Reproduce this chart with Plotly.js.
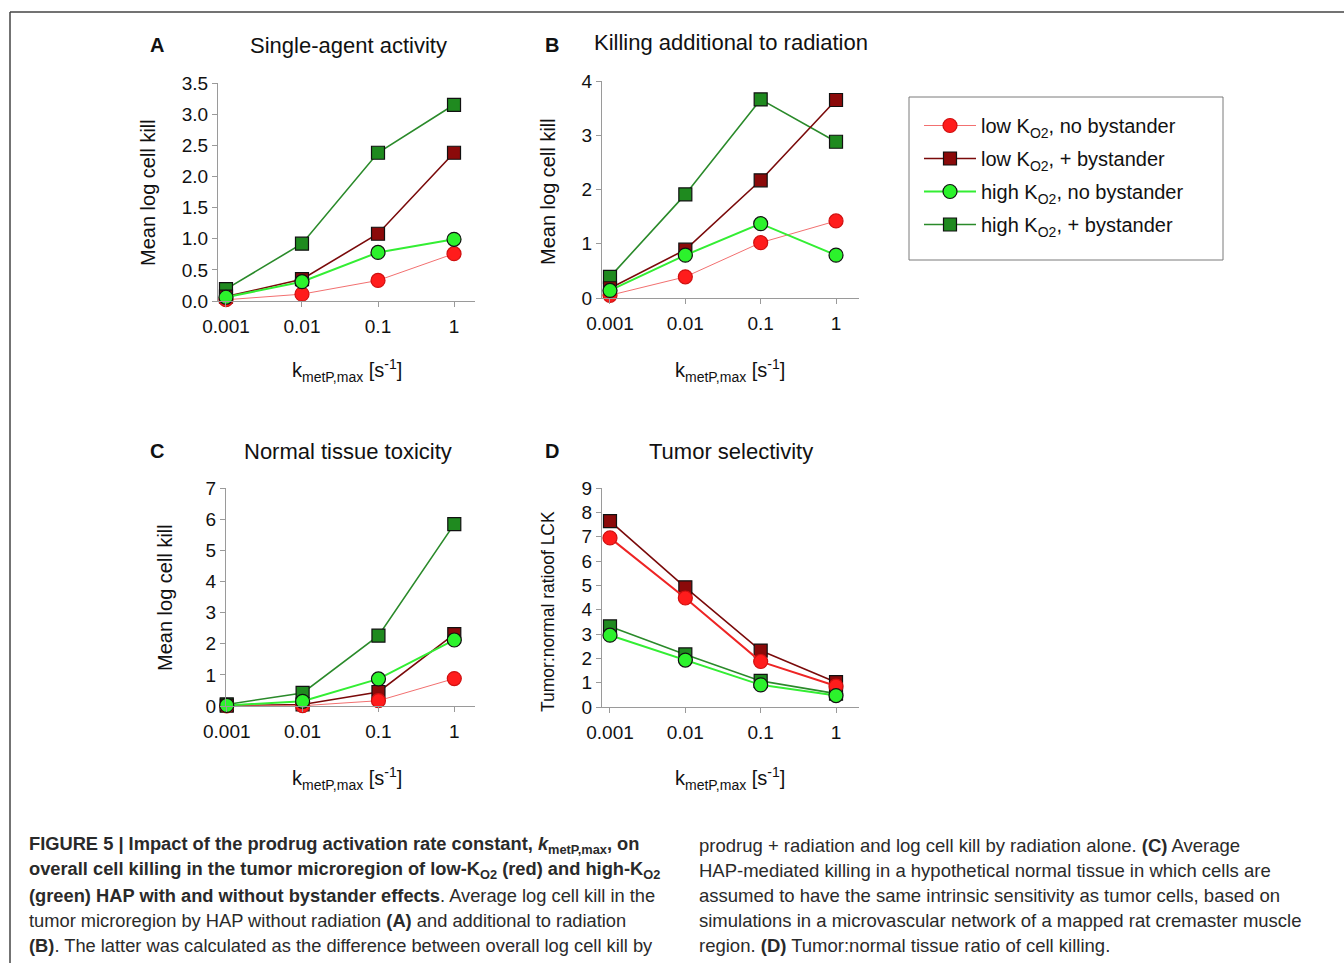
<!DOCTYPE html>
<html>
<head>
<meta charset="utf-8">
<script src="https://cdn.plot.ly/plotly-3.0.1.min.js"></script>
<style>html,body{margin:0;padding:0;background:#fff;}#chart{width:1344px;height:963px;}</style>
</head>
<body>
<div id="chart"></div>
<script>
// ---- data ----
const kmet = [0.001, 0.01, 0.1, 1];
const kmetLabels = ["0.001", "0.01", "0.1", "1"];
const seriesNames = ["low K<sub>O2</sub>, no bystander", "low K<sub>O2</sub>, + bystander",
                     "high K<sub>O2</sub>, no bystander", "high K<sub>O2</sub>, + bystander"];
// A: Single-agent activity
const aLowNo  = [0.02, 0.11, 0.33, 0.76];
const aLowBy  = [0.07, 0.35, 1.08, 2.38];
const aHighNo = [0.06, 0.31, 0.78, 0.99];
const aHighBy = [0.19, 0.92, 2.38, 3.15];
// B: Killing additional to radiation
const bLowNo  = [0.05, 0.39, 1.02, 1.42];
const bLowBy  = [0.18, 0.89, 2.17, 3.65];
const bHighNo = [0.14, 0.79, 1.37, 0.79];
const bHighBy = [0.39, 1.91, 3.66, 2.88];
// C: Normal tissue toxicity
const cLowNo  = [0.00, 0.01, 0.17, 0.88];
const cLowBy  = [0.01, 0.05, 0.45, 2.31];
const cHighNo = [0.02, 0.15, 0.87, 2.12];
const cHighBy = [0.05, 0.42, 2.26, 5.84];
// D: Tumor selectivity
const dLowNo  = [6.95, 4.48, 1.87, 0.86];
const dLowBy  = [7.64, 4.92, 2.32, 1.02];
const dHighNo = [2.95, 1.93, 0.91, 0.47];
const dHighBy = [3.31, 2.16, 1.07, 0.55];

const panelTitles = ["Single-agent activity", "Killing additional to radiation", "Normal tissue toxicity", "Tumor selectivity"];
const panelLetters = ["A", "B", "C", "D"];
const yTitles = ["Mean log cell kill", "Mean log cell kill", "Mean log cell kill", "Tumor:normal ratioof LCK"];

// ---- layout helpers ----
const W = 1344, H = 963;
const px = v => v / W;
const py = v => 1 - v / H;
const FONT = "Liberation Sans, Arial, sans-serif";

const styles = [
  {name: seriesNames[0], symbol: "circle", mcolor: "#ff1c1c", mline: "#d01010", lcolor: "#f27070", lwidth: 1, size: 14, rank: 1},
  {name: seriesNames[1], symbol: "square", mcolor: "#8b0a0a", mline: "#111", lcolor: "#7a0a0a", lwidth: 1.6, size: 13, rank: 2},
  {name: seriesNames[2], symbol: "circle", mcolor: "#2cf22c", mline: "#111", lcolor: "#33ee33", lwidth: 2, size: 14, rank: 3},
  {name: seriesNames[3], symbol: "square", mcolor: "#1f8a1f", mline: "#111", lcolor: "#2a8a2a", lwidth: 1.6, size: 13, rank: 4}
];

const panels = [
  {data: [aLowNo, aLowBy, aHighNo, aHighBy], xa: "x",  ya: "y"},
  {data: [bLowNo, bLowBy, bHighNo, bHighBy], xa: "x2", ya: "y2"},
  {data: [cLowNo, cLowBy, cHighNo, cHighBy], xa: "x3", ya: "y3"},
  {data: [dLowNo, dLowBy, dHighNo, dHighBy], xa: "x4", ya: "y4"}
];

// draw order: squares below circles
const drawOrder = [3, 1, 0, 2];
const traces = [];
panels.forEach((p, pi) => {
  drawOrder.forEach(si => {
    const s = styles[si];
    let lc = s.lcolor, lw = s.lwidth;
    if (pi === 3 && si === 0) { lc = "#ee2424"; lw = 2; }
    traces.push({
      type: "scatter", mode: "lines+markers",
      x: kmet, y: p.data[si], xaxis: p.xa, yaxis: p.ya,
      name: s.name, legendgroup: "g" + si, legendrank: s.rank,
      showlegend: pi === 0,
      cliponaxis: false,
      line: {color: lc, width: lw},
      marker: {symbol: s.symbol, size: s.size, color: s.mcolor, line: {color: s.mline, width: 1.2}},
      hoverinfo: "x+y+name"
    });
  });
});

const axisCommon = {
  showgrid: false, zeroline: false, showline: true, linecolor: "#9a9a9a", linewidth: 1,
  ticks: "outside", ticklen: 5, tickcolor: "#9a9a9a", tickwidth: 1,
  tickfont: {family: FONT, size: 19, color: "#111"}, fixedrange: true
};
function xaxis(x0, x1, y, r0, r1) {
  return Object.assign({}, axisCommon, {
    type: "log", domain: [px(x0), px(x1)], range: [r0, r1],
    tickvals: kmet, ticktext: kmetLabels, anchor: y, ticklabelstandoff: 3
  });
}
function yaxis(yTop, yBot, x, r1, dtick, fmt) {
  return Object.assign({}, axisCommon, {
    domain: [py(yBot), py(yTop)], range: [0, r1], dtick: dtick, tick0: 0,
    tickformat: fmt, anchor: x
  });
}

const annotations = [];
function ann(text, x, y, opts) {
  annotations.push(Object.assign({
    text: text, x: px(x), y: py(y), xref: "paper", yref: "paper",
    showarrow: false, xanchor: "center", yanchor: "middle",
    font: {family: FONT, size: 20, color: "#111"}
  }, opts || {}));
}
// panel letters and titles
const letterPos = [[157, 45], [552, 45], [157, 451], [552, 451]];
const titlePos = [[348, 45], [731, 43], [348, 451], [731, 451]];
panelLetters.forEach((l, i) => ann("<b>" + l + "</b>", letterPos[i][0], letterPos[i][1], {font: {family: FONT, size: 20, color: "#111"}}));
panelTitles.forEach((t, i) => ann(t, titlePos[i][0], titlePos[i][1], {font: {family: FONT, size: 22, color: "#111"}}));
// y titles
const yTitlePos = [[148, 193], [548, 192], [165, 598], [548, 612]];
const yTitleSize = [20, 20, 20, 17.5];
yTitles.forEach((t, i) => ann(t, yTitlePos[i][0], yTitlePos[i][1], {textangle: -90, font: {family: FONT, size: yTitleSize[i], color: "#111"}}));
// x titles
const xTitle = "k<sub>metP,max</sub> [s<sup>-1</sup>]";
[[347, 370], [730, 370], [347, 778], [730, 778]].forEach(p => ann(xTitle, p[0], p[1]));

// caption
const CAP = "Liberation Sans, Arial, sans-serif";
const capLeft = [
  "<b>FIGURE 5 | Impact of the prodrug activation rate constant, <i>k</i><sub>metP,max</sub>, on</b>",
  "<b>overall cell killing in the tumor microregion of low-K<sub>O2</sub> (red) and high-K<sub>O2</sub></b>",
  "<b>(green) HAP with and without bystander effects</b>. Average log cell kill in the",
  "tumor microregion by HAP without radiation <b>(A)</b> and additional to radiation",
  "<b>(B)</b>. The latter was calculated as the difference between overall log cell kill by"
];
const capRight = [
  "prodrug + radiation and log cell kill by radiation alone. <b>(C)</b> Average",
  "HAP-mediated killing in a hypothetical normal tissue in which cells are",
  "assumed to have the same intrinsic sensitivity as tumor cells, based on",
  "simulations in a microvascular network of a mapped rat cremaster muscle",
  "region. <b>(D)</b> Tumor:normal tissue ratio of cell killing."
];
capLeft.forEach((t, i) => ann(t, 27, 845 + 25 * i, {xanchor: "left", font: {family: CAP, size: 18.3, color: "#2a2a2a"}}));
capRight.forEach((t, i) => ann(t, 697, 845 + 25 * i, {xanchor: "left", font: {family: CAP, size: 18.5, color: "#2a2a2a"}}));

const layout = {
  width: W, height: H,
  margin: {l: 0, r: 0, t: 0, b: 0, pad: 0},
  paper_bgcolor: "#fff", plot_bgcolor: "rgba(0,0,0,0)",
  showlegend: true,
  legend: {
    x: px(919), y: py(106), xanchor: "left", yanchor: "top",
    borderwidth: 0, bgcolor: "rgba(0,0,0,0)",
    font: {family: FONT, size: 20, color: "#111"},
    tracegroupgap: 4, itemwidth: 52
  },
  xaxis:  xaxis(218, 475, "y",  -3.105, 0.276),
  yaxis:  yaxis(83, 301, "x", 3.5, 0.5, ".1f"),
  xaxis2: xaxis(602, 859, "y2", -3.106, 0.305),
  yaxis2: yaxis(81, 298, "x2", 4, 1, "d"),
  xaxis3: xaxis(226, 475, "y3", -3.01, 0.273),
  yaxis3: yaxis(488, 706, "x3", 7, 1, "d"),
  xaxis4: xaxis(602, 859, "y4", -3.106, 0.305),
  yaxis4: yaxis(488, 707, "x4", 9, 1, "d"),
  annotations: annotations,
  shapes: [
    {type: "line", xref: "paper", yref: "paper", x0: px(10), x1: 1, y0: py(12), y1: py(12), line: {color: "#444", width: 1.5}},
    {type: "line", xref: "paper", yref: "paper", x0: px(10), x1: px(10), y0: py(12), y1: 0, line: {color: "#444", width: 1.5}},
    {type: "rect", xref: "paper", yref: "paper", x0: px(909), x1: px(1223), y0: py(260), y1: py(97), line: {color: "#7a7a7a", width: 1}, fillcolor: "rgba(0,0,0,0)"}
  ]
};

Plotly.newPlot("chart", traces, layout, {displayModeBar: false, staticPlot: true});
</script>
</body>
</html>
